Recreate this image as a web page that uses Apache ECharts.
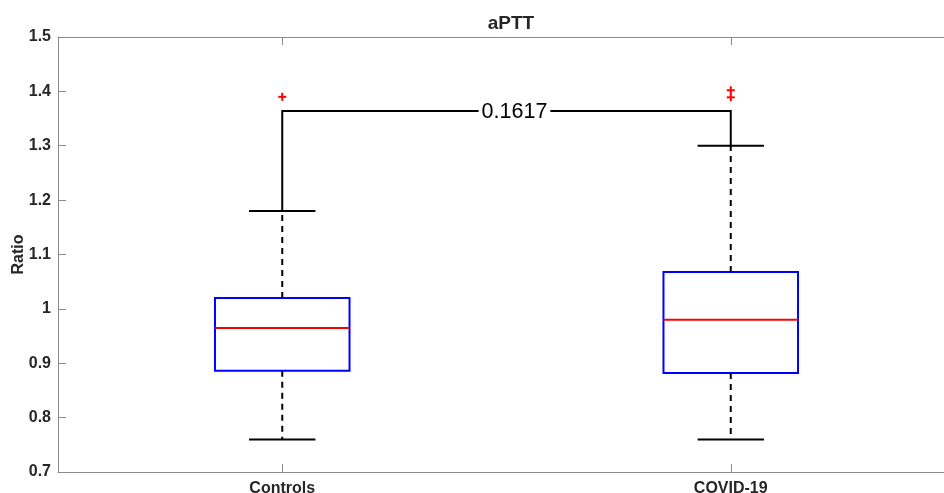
<!DOCTYPE html>
<html>
<head>
<meta charset="utf-8">
<script src="https://cdn.jsdelivr.net/npm/echarts@6/dist/echarts.min.js"></script>
<style>html,body{margin:0;padding:0;background:#fff;}#main{width:944px;height:493px;}</style>
</head>
<body>
<div id="main"></div>
<script>
const categories = ['Controls', 'COVID-19'];
const lowerWhisker = [0.76, 0.76];
const q1 = [0.886, 0.882];
const median = [0.965, 0.98];
const q3 = [1.02, 1.068];
const upperWhisker = [1.18, 1.30];
const outliers = [[0, 1.39], [1, 1.389], [1, 1.402]];
const bracketY = 1.364;
const pValueText = '0.1617';

const boxData = categories.map((c, i) => [i, lowerWhisker[i], q1[i], median[i], q3[i], upperWhisker[i]]);

const chart = echarts.init(document.getElementById('main'), null, {renderer: 'canvas'});
const font = '"Liberation Sans", Arial, Helvetica, sans-serif';
const axisGray = '#8a8a8a';
const textCol = '#262626';

function renderBox(params, api) {
  const i = api.value(0);
  const band = api.size([1, 0])[0];
  const halfBox = band * 0.15;
  const halfCap = band * 0.074;
  const pLow = api.coord([i, api.value(1)]);
  const pQ1 = api.coord([i, api.value(2)]);
  const pMed = api.coord([i, api.value(3)]);
  const pQ3 = api.coord([i, api.value(4)]);
  const pHigh = api.coord([i, api.value(5)]);
  const cx = pLow[0];
  const dash = {stroke: '#000', lineWidth: 2, lineDash: [6, 5]};
  const solid = {stroke: '#000', lineWidth: 2};
  return {
    type: 'group',
    children: [
      {type: 'line', shape: {x1: cx, y1: pQ3[1], x2: cx, y2: pHigh[1]}, style: dash},
      {type: 'line', shape: {x1: cx, y1: pQ1[1], x2: cx, y2: pLow[1]}, style: dash},
      {type: 'line', shape: {x1: cx - halfCap, y1: pHigh[1], x2: cx + halfCap, y2: pHigh[1]}, style: solid},
      {type: 'line', shape: {x1: cx - halfCap, y1: pLow[1], x2: cx + halfCap, y2: pLow[1]}, style: solid},
      {type: 'rect', shape: {x: cx - halfBox, y: pQ3[1], width: halfBox * 2, height: pQ1[1] - pQ3[1]},
        style: {fill: 'none', stroke: '#0000ff', lineWidth: 2}},
      {type: 'line', shape: {x1: cx - halfBox, y1: pMed[1], x2: cx + halfBox, y2: pMed[1]},
        style: {stroke: '#ff0000', lineWidth: 2}}
    ]
  };
}

function renderOutlier(params, api) {
  const p = api.coord([api.value(0), api.value(1)]);
  const r = 4;
  const st = {stroke: '#ff0000', lineWidth: 2};
  return {
    type: 'group',
    children: [
      {type: 'line', shape: {x1: p[0] - r, y1: p[1], x2: p[0] + r, y2: p[1]}, style: st},
      {type: 'line', shape: {x1: p[0], y1: p[1] - r, x2: p[0], y2: p[1] + r}, style: st}
    ]
  };
}

function renderBracket(params, api) {
  const a = api.coord([0, upperWhisker[0]]);
  const b = api.coord([0, bracketY]);
  const c = api.coord([1, bracketY]);
  const d = api.coord([1, upperWhisker[1]]);
  return {
    type: 'group',
    children: [
      {type: 'polyline', shape: {points: [a, b, c, d]}, style: {stroke: '#000', lineWidth: 2, fill: 'none'}},
      {type: 'text', x: (b[0] + c[0]) / 2 + 8, y: b[1] + 1,
        style: {text: pValueText, font: '21.5px ' + font, fill: '#000', align: 'center', verticalAlign: 'middle',
          backgroundColor: '#fff', padding: [0, 3]}}
    ]
  };
}

chart.setOption({
  animation: false,
  backgroundColor: '#fff',
  title: {
    text: 'aPTT', left: 506, top: 9, textAlign: 'center',
    textStyle: {fontFamily: font, fontWeight: 'bold', fontSize: 19, color: textCol}
  },
  grid: {left: 58, top: 37, width: 897, height: 435, containLabel: false, outerBoundsMode: 'none'},
  xAxis: [{
    type: 'category', data: categories, boundaryGap: true,
    axisLine: {show: true, lineStyle: {color: axisGray, width: 1}},
    axisTick: {show: true, inside: true, alignWithLabel: true, length: 8, lineStyle: {color: axisGray}},
    axisLabel: {fontFamily: font, fontWeight: 'bold', fontSize: 16, color: textCol, margin: 9},
    splitLine: {show: false}
  }, {
    type: 'category', data: categories, boundaryGap: true, position: 'top',
    axisLine: {show: true, lineStyle: {color: axisGray, width: 1}},
    axisTick: {show: true, inside: true, alignWithLabel: true, length: 8, lineStyle: {color: axisGray}},
    axisLabel: {show: false}, splitLine: {show: false}
  }],
  yAxis: {
    type: 'value', min: 0.7, max: 1.5, interval: 0.1,
    name: 'Ratio', nameLocation: 'middle', nameGap: 31, nameMoveOverlap: false,
    nameTextStyle: {fontFamily: font, fontWeight: 'bold', fontSize: 16, color: textCol},
    axisLine: {show: true, lineStyle: {color: axisGray, width: 1}},
    axisTick: {show: true, inside: true, length: 8, lineStyle: {color: axisGray}},
    axisLabel: {fontFamily: font, fontWeight: 'bold', fontSize: 16, color: textCol, margin: 7,
      formatter: v => String(Math.round(v * 10) / 10)},
    splitLine: {show: false}
  },
  series: [
    {type: 'custom', renderItem: renderBracket, data: [[0, bracketY]], clip: false, z: 3},
    {type: 'custom', renderItem: renderBox, data: boxData, encode: {x: 0, y: [1, 2, 3, 4, 5]}, z: 2},
    {type: 'custom', renderItem: renderOutlier, data: outliers, encode: {x: 0, y: 1}, z: 4}
  ]
});
</script>
</body>
</html>
